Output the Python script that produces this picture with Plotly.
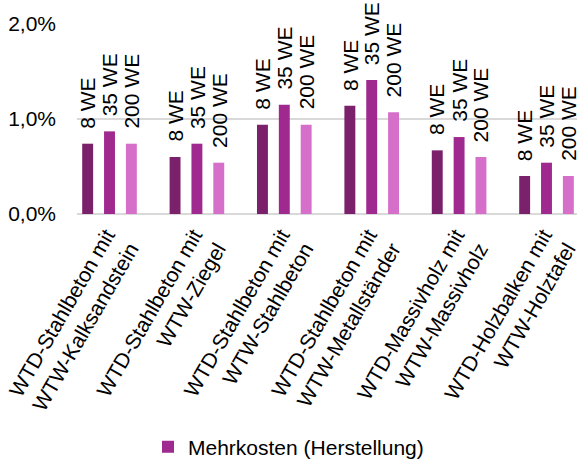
import plotly.graph_objects as go

# Wall/ceiling combinations (two-line tick labels)
categories = [
    "WTD-Stahlbeton mit<br>WTW-Kalksandstein",
    "WTD-Stahlbeton mit<br>WTW-Ziegel",
    "WTD-Stahlbeton mit<br>WTW-Stahlbeton",
    "WTD-Stahlbeton mit<br>WTW-Metallständer",
    "WTD-Massivholz mit<br>WTW-Massivholz",
    "WTD-Holzbalken mit<br>WTW-Holztafel",
]

# Additional construction cost in percent, per building size
series_names = ["8 WE", "35 WE", "200 WE"]
values_8we = [0.74, 0.60, 0.94, 1.14, 0.67, 0.40]
values_35we = [0.87, 0.74, 1.15, 1.41, 0.81, 0.54]
values_200we = [0.74, 0.54, 0.94, 1.07, 0.60, 0.40]
series_values = [values_8we, values_35we, values_200we]

legend_label = "Mehrkosten (Herstellung)"
colors = ["#7B216B", "#A0298F", "#D66FC9"]

y_tickvals = [0, 1, 2]
y_ticktext = ["0,0%", "1,0%", "2,0%"]

FONT = "Liberation Sans, Arial, sans-serif"
BARGAP = 0.25
BARGROUPGAP = 0.5

fig = go.Figure()
for i, (name, vals) in enumerate(zip(series_names, series_values)):
    fig.add_trace(go.Bar(
        x=categories,
        y=vals,
        name=legend_label if i == 1 else name,
        marker=dict(color=colors[i], line=dict(width=0)),
        showlegend=(i == 1),
    ))

# Rotated series labels above each bar
slot = (1 - BARGAP) / len(series_names)
annotations = []
for i, (name, vals) in enumerate(zip(series_names, series_values)):
    for j, v in enumerate(vals):
        annotations.append(dict(
            x=j + (i - 1) * slot, y=v, xref="x", yref="y",
            text=name, showarrow=False, textangle=-90, borderpad=0,
            xanchor="center", yanchor="bottom", yshift=14,
            font=dict(family=FONT, size=21, color="#000000"),
        ))

fig.update_layout(
    width=577, height=461,
    margin=dict(l=77, r=0, t=24, b=247, autoexpand=False),
    paper_bgcolor="white", plot_bgcolor="white",
    barmode="group", bargap=BARGAP, bargroupgap=BARGROUPGAP,
    font=dict(family=FONT, size=21, color="#000000"),
    annotations=annotations,
    legend=dict(
        orientation="h", xref="container", yref="container",
        x=0.5, xanchor="center", y=0.03, yanchor="middle",
        font=dict(size=21), itemwidth=30,
    ),
    xaxis=dict(
        type="category", range=[-0.372, 5.349], automargin=False,
        showgrid=False, showline=False, zeroline=False,
        tickangle=-60, ticks="", ticklabelstandoff=4, ticklabelshift=-3,
        tickfont=dict(size=21),
    ),
    yaxis=dict(
        range=[0, 2.0], tickvals=y_tickvals, ticktext=y_ticktext, automargin=False,
        showgrid=True, gridcolor="#D9D9D9", gridwidth=1.5,
        zeroline=True, zerolinecolor="#D9D9D9", zerolinewidth=2,
        showline=False, ticks="", ticklabelstandoff=20,
        tickfont=dict(size=21),
    ),
)

fig.write_html("out.html")
